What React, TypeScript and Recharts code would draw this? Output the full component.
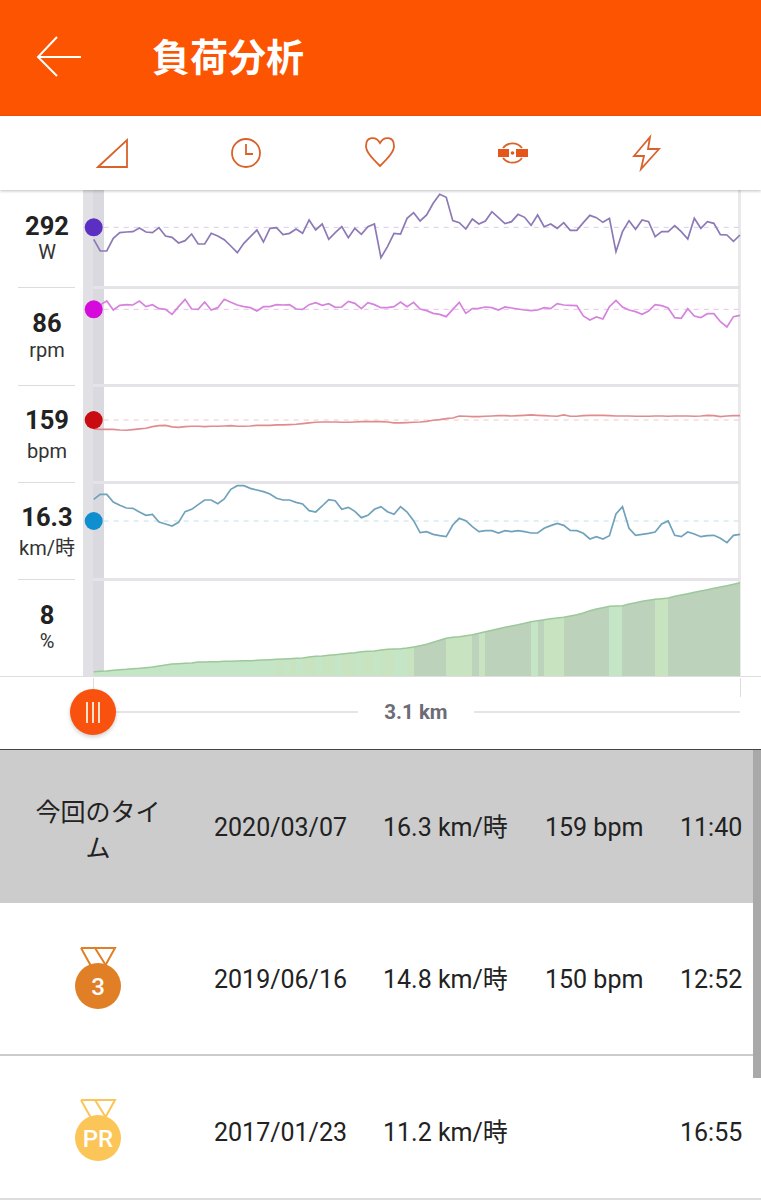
import { Area, AreaChart, Line, LineChart, ReferenceDot, ReferenceLine, XAxis, YAxis } from "recharts"

const powerValues = [
  256, 221, 221, 259, 276, 278, 279, 290, 278, 276, 291, 266, 262, 245, 252, 272, 242, 242, 274, 266,
  255, 236, 216, 244, 264, 284, 248, 289, 291, 270, 274, 287, 274, 314, 284, 302, 256, 276, 294, 261,
  289, 271, 294, 302, 201, 234, 274, 272, 319, 336, 311, 329, 364, 391, 382, 312, 306, 287, 317, 302,
  311, 339, 321, 303, 309, 331, 322, 298, 329, 294, 302, 289, 306, 283, 283, 306, 328, 321, 307, 319,
  219, 279, 312, 286, 314, 309, 264, 279, 279, 297, 279, 257, 319, 289, 309, 304, 270, 269, 250, 269,
]

const cadenceValues = [
  88.6, 88.6, 91.0, 85.6, 88.4, 88.8, 88.6, 91.0, 87.6, 88.8, 86.4, 86.0, 83.0, 87.6, 92.0, 86.2, 86.0, 90.4, 85.6, 87.0,
  92.0, 90.2, 88.6, 87.6, 87.0, 85.0, 87.6, 87.6, 88.8, 88.6, 88.8, 86.2, 86.0, 88.8, 90.0, 88.4, 89.4, 87.2, 87.4, 90.8,
  89.6, 86.4, 90.0, 88.8, 87.0, 87.0, 87.6, 90.4, 87.6, 90.2, 86.2, 85.2, 83.6, 83.0, 81.6, 86.0, 90.2, 83.6, 86.4, 86.6,
  87.4, 87.0, 85.6, 87.4, 86.8, 86.2, 85.6, 85.2, 85.6, 87.0, 86.4, 89.4, 88.6, 88.4, 88.2, 82.0, 79.6, 81.4, 80.2, 87.6,
  91.4, 87.4, 85.6, 84.6, 83.0, 85.0, 88.8, 88.2, 86.8, 81.0, 80.6, 86.4, 82.0, 81.0, 83.4, 83.4, 78.6, 75.4, 81.6, 82.4,
]

const heartRateValues = [
  152.3, 152, 152, 152, 151.5, 151.3, 151.8, 152.3, 152.8, 154, 154.8, 155, 153.8, 153.5, 154, 154.3, 154.3, 154, 154.3, 154.3,
  154.5, 154.8, 154.3, 154.3, 154.5, 155, 155, 155, 155.3, 155.3, 155.5, 155.8, 156.3, 156.8, 157.3, 157.5, 157.5, 157.5, 157.3, 157.3,
  157.5, 157.8, 157.8, 157.8, 157.8, 157.5, 156.8, 156.8, 157, 157.3, 157.5, 158, 158.8, 159.3, 160, 160.5, 162, 161.8, 161.5, 161.5,
  161.8, 162, 162.3, 162.3, 162, 162.3, 162.5, 162.8, 162.5, 162.3, 162, 161.8, 162.8, 161.8, 161.8, 162.3, 162.5, 162.5, 162.5, 162.3,
  162, 162, 162, 161.8, 161.8, 161.8, 162, 162, 161.8, 162, 162, 162, 161.8, 162, 162.5, 162.3, 161.5, 162, 162.3, 162.3,
]

const speedValues = [
  18.25, 18.7, 18.7, 18.01, 17.71, 17.47, 17.44, 17.11, 16.81, 16.9, 16.21, 16.03, 15.85, 16.18, 17.14, 17.35, 17.77, 18.19, 18.19, 17.86,
  18.28, 19.15, 19.48, 19.48, 19.24, 19.09, 18.94, 18.73, 18.34, 18.19, 18.19, 17.98, 17.83, 17.23, 17.11, 17.65, 18.22, 18.13, 17.35, 17.53,
  17.17, 16.6, 16.81, 17.35, 17.59, 17.14, 16.9, 17.59, 17.11, 16.33, 15.25, 15.34, 15.1, 14.98, 14.89, 15.94, 16.54, 16.33, 15.79, 15.34,
  15.43, 15.43, 15.22, 15.43, 15.34, 15.43, 15.34, 15.22, 15.22, 15.64, 15.88, 16.09, 15.91, 15.46, 15.43, 15.19, 14.68, 14.89, 14.68, 14.98,
  16.93, 17.59, 15.64, 15.01, 15.1, 15.19, 15.31, 16.03, 16.3, 15.01, 14.89, 15.31, 15.13, 14.89, 14.98, 15.01, 14.74, 14.35, 15.01, 15.1,
]

const elevationValues = [
  13, 14, 15, 17, 19, 20, 22, 23, 25, 27, 30, 33, 36, 37, 38, 39, 42, 42, 43, 43,
  44, 44, 45, 46, 46, 47, 48, 49, 50, 51, 52, 53, 54, 57, 59, 60, 62, 64, 66, 68,
  70, 73, 74, 75, 78, 80, 81, 82, 84, 87, 91, 95, 101, 107, 113, 116, 118, 121, 124, 128,
  133, 137, 142, 146, 150, 154, 158, 163, 166, 169, 172, 174, 176, 180, 184, 189, 196, 201, 205, 209,
  210, 211, 216, 220, 224, 227, 230, 232, 234, 239, 243, 247, 251, 255, 259, 263, 267, 271, 275, 280,
]

const gradeValues = [
  2, 2, 2, 2, 2, 3, 3, 2, 2, 3, 2, 2, 3, 2, 2, 2, 3, 2, 2, 2,
  2, 3, 2, 2, 2, 3, 2, 2, 5, 2, 5, 3, 5, 5, 2, 5, 5, 2, 5, 5,
  2, 5, 5, 2, 5, 5, 2, 3, 5, 8, 8, 8, 8, 8, 5, 5, 5, 5, 8, 5,
  8, 8, 8, 8, 8, 8, 8, 3, 8, 5, 5, 5, 8, 8, 8, 8, 8, 8, 8, 3,
  3, 8, 8, 8, 8, 8, 5, 5, 8, 8, 8, 8, 8, 8, 8, 8, 8, 8, 8, 8,
]

const chartData = powerValues.map((power, i) => ({
  i,
  power,
  cadence: cadenceValues[i],
  heartRate: heartRateValues[i],
  speed: speedValues[i],
  elevation: elevationValues[i],
}))

const dateLabels = ["2020/03/07", "2019/06/16", "2017/01/23"]
const speedLabels = ["16.3 km/時", "14.8 km/時", "11.2 km/時"]
const bpmLabels = ["159 bpm", "150 bpm", ""]
const timeLabels = ["11:40", "12:52", "16:55"]

const CHART_W = 761
const PANEL_H = 97
const chartMargin = { top: 0, right: 21, bottom: 0, left: 93.7 }
const cjk = "Roboto, 'Noto Sans CJK JP', sans-serif"

function gradeColor(g: number) {
  if (g >= 7) return "#bcd2bb"
  if (g >= 4) return "#c8e3bf"
  return "#c4e6c6"
}

interface PanelProps {
  top: number
  dataKey: string
  domain: [number, number]
  current: number
  stroke: string
  dash: string
  dot: string
}

function MetricPanel({ top, dataKey, domain, current, stroke, dash, dot }: PanelProps) {
  return (
    <div style={{ position: "absolute", left: 0, top }}>
      <LineChart width={CHART_W} height={PANEL_H} data={chartData} margin={chartMargin}>
        <XAxis dataKey="i" type="number" domain={[0, 99]} hide />
        <YAxis domain={domain} hide allowDataOverflow />
        <ReferenceLine y={current} stroke={dash} strokeDasharray="5 5" strokeWidth={1} />
        <Line dataKey={dataKey} stroke={stroke} strokeWidth={1.7} dot={false} isAnimationActive={false} />
        <ReferenceDot x={0} y={current} r={9} fill={dot} stroke="none" ifOverflow="visible" />
      </LineChart>
    </div>
  )
}

function Reading({ top, value, unit, unitTop }: { top: number; value: string; unit: string; unitTop: number }) {
  return (
    <>
      <div style={{ position: "absolute", left: 0, width: 94, top, textAlign: "center", fontSize: 25.5, fontWeight: 700, lineHeight: "28px", color: "#222" }}>
        {value}
      </div>
      <div style={{ position: "absolute", left: 0, width: 94, top: unitTop, textAlign: "center", fontSize: 20, lineHeight: "26px", color: "#333", fontFamily: cjk }}>
        {unit}
      </div>
    </>
  )
}

function Medal({ cy, fill, label }: { cy: number; fill: string; label: string }) {
  const top = cy - 38
  return (
    <svg width={60} height={70} style={{ position: "absolute", left: 68, top: top - 2 }} viewBox={`68 ${top - 2} 60 70`}>
      <path
        d={`M81 ${top} L115 ${top} L105 ${top + 18} M81 ${top} L91 ${top + 18} M95 ${top} L105 ${top + 16}`}
        fill="none"
        stroke={fill}
        strokeWidth={2}
      />
      <circle cx={98} cy={cy} r={23} fill={fill} />
      <text x={98} y={cy + 8.5} textAnchor="middle" fontSize={24} fontWeight={500} fill="#fff" fontFamily="Roboto">
        {label}
      </text>
    </svg>
  )
}

function Row({ index, top, height, bg }: { index: number; top: number; height: number; bg: string }) {
  const cell = (left: number, text: string) => (
    <div style={{ position: "absolute", left, top: height / 2 - 17, fontSize: 25, lineHeight: "36px", color: "#222", whiteSpace: "nowrap", fontFamily: cjk }}>
      {text}
    </div>
  )
  return (
    <div style={{ position: "absolute", left: 0, top, width: 761, height, background: bg }}>
      {cell(214, dateLabels[index])}
      {cell(383, speedLabels[index])}
      {cell(545, bpmLabels[index])}
      {cell(680, timeLabels[index])}
    </div>
  )
}

function Rule({ left, top, width, height, color }: { left: number; top: number; width: number; height: number; color: string }) {
  return <div style={{ position: "absolute", left, top, width, height, background: color }} />
}

export default function App() {
  return (
    <div style={{ position: "absolute", left: 0, top: 0, width: 761, height: 1200, overflow: "hidden", background: "#fff", fontFamily: "Roboto, sans-serif" }}>
      {/* header */}
      <Rule left={0} top={0} width={761} height={116} color="#fc5400" />
      <svg width={100} height={60} style={{ position: "absolute", left: 0, top: 27 }} viewBox="0 27 100 60">
        <path d="M57 37 L38 57 L57 76 M38 57 L81 57" fill="none" stroke="#fff" strokeWidth={2} />
      </svg>
      <div style={{ position: "absolute", left: 152, top: 31, fontSize: 38, lineHeight: "48px", fontWeight: 700, color: "#fff", fontFamily: "'Noto Sans CJK JP'", whiteSpace: "nowrap" }}>
        負荷分析
      </div>

      {/* toolbar */}
      <div style={{ position: "absolute", left: 0, top: 116, width: 761, height: 74, background: "#fff", boxShadow: "0 1px 3px rgba(0,0,0,0.25)", zIndex: 3 }}>
        <svg width={761} height={74} viewBox="0 116 761 74" style={{ display: "block" }}>
          <g fill="none" stroke="#d9622b" strokeWidth={1.8}>
            <path d="M98 167 L127 140 L127 167 Z" />
            <circle cx={246} cy={153} r={14} />
            <path d="M246 144 L246 154 L253 154" />
            <path d="M380 166 C372 158 366 152 366 146 C366 136 376 136 380 143 C384 136 394 136 394 146 C394 152 388 158 380 166 Z" />
            <path d="M650 137 L634 156 L644 156 L641 169 L659 149 L648 149 Z" />
            <path d="M503 148 A12 12 0 0 1 522 148 M503 158 A12 12 0 0 0 522 158" />
          </g>
          <rect x={498} y={149} width={11} height={8} fill="#e4561a" />
          <rect x={516} y={149} width={12} height={8} fill="#e4561a" />
          <circle cx={512.5} cy={153} r={1.8} fill="#e4561a" />
        </svg>
      </div>

      {/* cursor band and right edge */}
      <Rule left={83} top={190} width={10} height={486} color="#e1e0e5" />
      <Rule left={93} top={190} width={11} height={486} color="#dbd9e0" />
      <Rule left={738} top={190} width={3} height={486} color="#e9e9ec" />

      {/* separators */}
      {[287, 385, 482, 579].map((y) => (
        <div key={y}>
          <Rule left={18} top={y} width={57} height={1} color="#dcdcdc" />
          <Rule left={93} top={y - 1} width={647} height={3} color="#e5e3e8" />
        </div>
      ))}

      <MetricPanel top={190} dataKey="power" domain={[113, 404]} current={292} stroke="#8d79b6" dash="#d8ccf0" dot="#5a2fc2" />
      <MetricPanel top={287} dataKey="cadence" domain={[41.2, 99.4]} current={86} stroke="#d583dc" dash="#e8c0ee" dot="#d60bdb" />
      <MetricPanel top={385} dataKey="heartRate" domain={[112.5, 185.25]} current={159} stroke="#e08c8e" dash="#f0c8c8" dot="#c90a10" />
      <MetricPanel top={482} dataKey="speed" domain={[11.08, 19.81]} current={16.3} stroke="#6fa2bb" dash="#c0e0e8" dot="#0f8fd0" />

      <div style={{ position: "absolute", left: 0, top: 579 }}>
        <AreaChart width={CHART_W} height={PANEL_H} data={chartData} margin={chartMargin}>
          <defs>
            <linearGradient id="gradeFill" gradientUnits="userSpaceOnUse" x1={93.7} x2={740} y1={0} y2={0}>
              {gradeValues.flatMap((g, i) => [
                <stop key={`a${i}`} offset={i / 99} stopColor={gradeColor(g)} />,
                <stop key={`b${i}`} offset={Math.min(1, (i + 1) / 99)} stopColor={gradeColor(g)} />,
              ])}
            </linearGradient>
          </defs>
          <XAxis dataKey="i" type="number" domain={[0, 99]} hide />
          <YAxis domain={[0, 291]} hide />
          <Area dataKey="elevation" stroke="#9cc89b" strokeWidth={1.5} fill="url(#gradeFill)" fillOpacity={1} isAnimationActive={false} />
        </AreaChart>
      </div>

      {/* readings */}
      <Reading top={212} value="292" unit="W" unitTop={239} />
      <Reading top={309} value="86" unit="rpm" unitTop={337} />
      <Reading top={406} value="159" unit="bpm" unitTop={438} />
      <Reading top={503} value="16.3" unit="km/時" unitTop={535} />
      <Reading top={601} value="8" unit="%" unitTop={628} />

      {/* distance slider */}
      <Rule left={0} top={676} width={761} height={1} color="#dedede" />
      <Rule left={93} top={678} width={1} height={12} color="#dddddd" />
      <Rule left={740} top={678} width={1} height={19} color="#dddddd" />
      <Rule left={116} top={711} width={242} height={2} color="#e6e4e9" />
      <Rule left={474} top={711} width={266} height={2} color="#e6e4e9" />
      <div style={{ position: "absolute", left: 70, top: 689, width: 46, height: 46, borderRadius: 23, background: "#f9510e", boxShadow: "0 2px 4px rgba(0,0,0,0.2)" }} />
      <Rule left={86} top={702} width={2} height={21} color="#fde0c8" />
      <Rule left={92} top={702} width={2} height={21} color="#fde0c8" />
      <Rule left={98} top={702} width={2} height={21} color="#fde0c8" />
      <div style={{ position: "absolute", left: 358, width: 116, top: 700, textAlign: "center", fontSize: 20.5, lineHeight: "24px", fontWeight: 700, color: "#6c6c76" }}>
        3.1 km
      </div>
      <Rule left={0} top={749} width={761} height={1} color="#444444" />

      {/* comparison rows */}
      <Row index={0} top={750} height={153} bg="#cccccc" />
      <Row index={1} top={903} height={151} bg="#ffffff" />
      <Row index={2} top={1055} height={153} bg="#ffffff" />
      <Rule left={0} top={1054} width={761} height={2} color="#cbcbcb" />
      <Rule left={0} top={1198} width={761} height={2} color="#dddddd" />
      <Rule left={753} top={750} width={8} height={328} color="#a9a9a9" />
      <div style={{ position: "absolute", left: 28, width: 140, top: 792, textAlign: "center", fontSize: 25, lineHeight: "36px", color: "#222", fontFamily: "'Noto Sans CJK JP'" }}>
        今回のタイム
      </div>
      <Medal cy={986} fill="#e07f26" label="3" />
      <Medal cy={1138} fill="#fbc558" label="PR" />
    </div>
  )
}
